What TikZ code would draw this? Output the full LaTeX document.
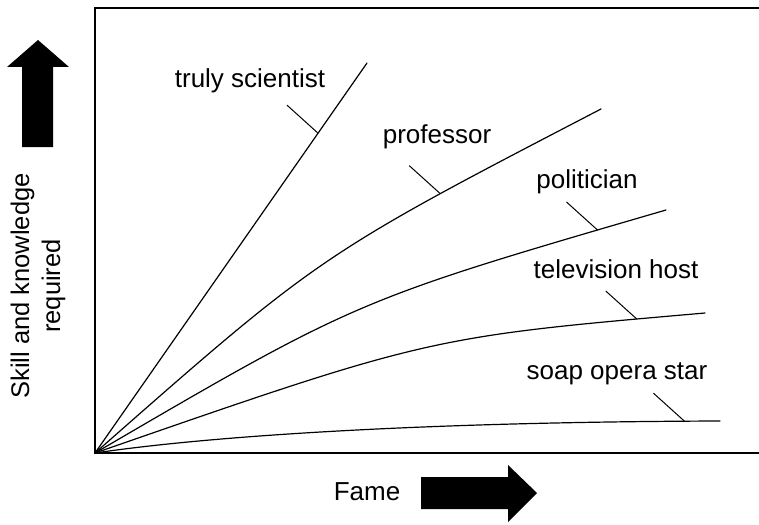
\documentclass[tikz,border=0pt]{standalone}
\usepackage{fontspec}
\setmainfont{Liberation Sans}
\usetikzlibrary{positioning}

\begin{document}
\begin{tikzpicture}[
    x=1pt, y=-1pt,
    career/.style={line width=1.2pt, line cap=round},
    pointer/.style={line width=1pt},
    frame/.style={line width=1.4pt},
    tag/.style={anchor=base, inner sep=0pt, font=\fontsize{26}{31}\selectfont},
    bigarrow/.style={fill=black}
  ]

    \useasboundingbox (0,0) rectangle (759,524);

    % axes frame
    \coordinate (origin) at (95,453);
    \coordinate (topEnd) at (759,8);
    \coordinate (rightEnd) at (759,453);
    \draw[frame] (topEnd) -- (95,8) -- (origin) -- (rightEnd);

    % end points of the careers
    \coordinate (scientistEnd) at (367,63);
    \coordinate (professorEnd) at (601,109);
    \coordinate (politicianEnd) at (666,210);
    \coordinate (hostEnd) at (705,313);
    \coordinate (soapEnd) at (720,421);

    \draw[career] (origin) -- coordinate[pos=0.82] (scientistOn) (scientistEnd);
    \draw[career] (origin) .. controls (320,255) .. coordinate[pos=0.76] (professorOn) (professorEnd);
    \draw[career] (origin) .. controls (357,300) .. coordinate[pos=0.92] (politicianOn) (politicianEnd);
    \draw[career] (origin) .. controls (429,337) .. coordinate[pos=0.91] (hostOn) (hostEnd);
    \draw[career] (origin) .. controls (210,436) and (420,422) .. coordinate[pos=0.96] (soapOn) (soapEnd);

    % labels
    \node[tag] (scientist) at (250,88) {truly scientist};
    \node[tag] (professor) at (437,143) {professor};
    \node[tag] (politician) at (587,188) {politician};
    \node[tag] (host) at (616,278) {television host};
    \node[tag] (soap) at (617,379) {soap opera star};

    % pointers from labels to lines
    \foreach \who in {scientist, professor, politician, host, soap} {
      \path (\who On) ++(-31,-28) coordinate (\who Tip);
      \draw[pointer] (\who Tip) -- (\who On);
    }

    % axis titles
    \node[inner sep=0pt, rotate=90, align=center, font=\fontsize{25.5}{31}\selectfont] (skill) at (38,286) {Skill and knowledge\\required};
    \node[tag] (fame) at (367,500) {Fame};

    % thick arrows
    \fill[bigarrow] (22,147) -- (53,147) -- (53,67) -- (69,67) -- (38,40) -- (7,67) -- (22,67) -- cycle;
    \fill[bigarrow] (421,477) -- (508,477) -- (508,465) -- (537,493) -- (508,522) -- (508,509) -- (421,509) -- cycle;
  \end{tikzpicture}
\end{document}
